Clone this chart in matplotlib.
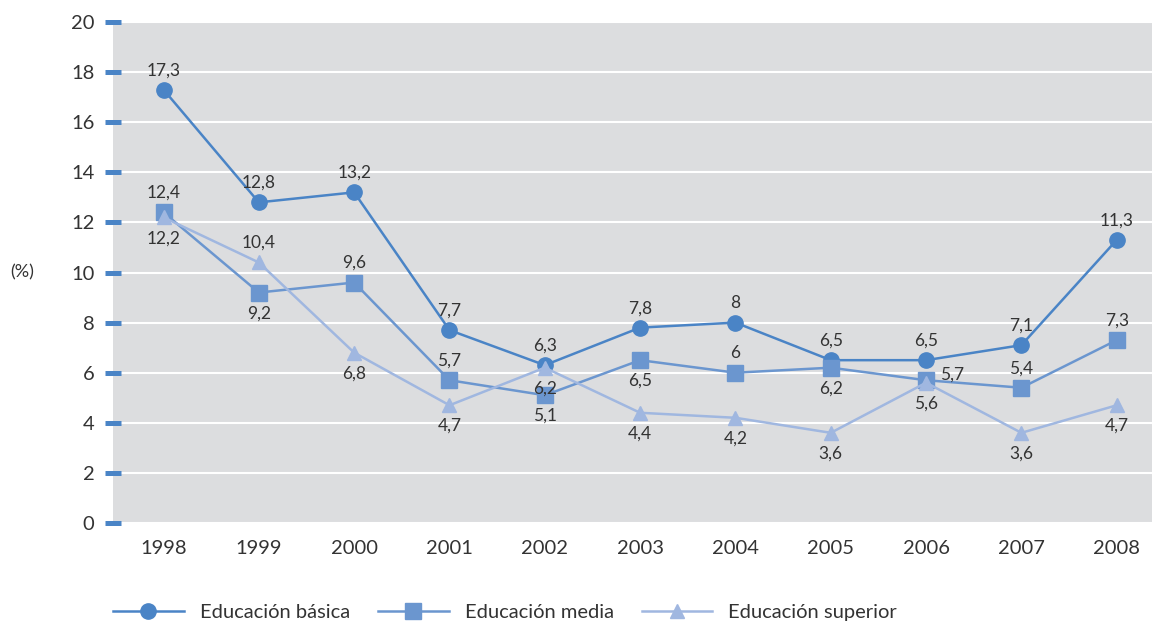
import numpy as np
import matplotlib.pyplot as plt
from matplotlib.lines import Line2D

plt.rcParams['font.family'] = ['Lato', 'DejaVu Sans']

years = ['1998', '1999', '2000', '2001', '2002', '2003', '2004', '2005', '2006', '2007', '2008']
basica = [17.3, 12.8, 13.2, 7.7, 6.3, 7.8, 8, 6.5, 6.5, 7.1, 11.3]
media = [12.4, 9.2, 9.6, 5.7, 5.1, 6.5, 6, 6.2, 5.7, 5.4, 7.3]
superior = [12.2, 10.4, 6.8, 4.7, 6.2, 4.4, 4.2, 3.6, 5.6, 3.6, 4.7]

# donde va cada etiqueta: a = arriba, b = abajo, r = derecha
pos_basica = ['a'] * 11
pos_media = ['a', 'b', 'a', 'a', 'b', 'b', 'a', 'b', 'r', 'a', 'a']
pos_superior = ['b', 'a', 'b', 'b', 'b', 'b', 'b', 'b', 'b', 'b', 'b']

c_bas = '#4a84c6'
c_med = '#6b96cf'
c_sup = '#a0b7e0'
txt = '#333333'

fig = plt.figure(figsize=(11.57, 6.21), dpi=100)
ax = fig.add_axes([113/1157, 98/621, (1152-113)/1157, 501/621])
ax.set_facecolor('#dcdddf')

x = np.arange(len(years))
series = [
    (basica, pos_basica, c_bas, 'o', 11, 'Educación básica'),
    (media, pos_media, c_med, 's', 11, 'Educación media'),
    (superior, pos_superior, c_sup, '^', 10, 'Educación superior'),
]
handles = []
for vals, pos, col, mk, ms, lab in series:
    ax.plot(x, vals, color=col, lw=1.8, marker=mk, ms=ms, zorder=3)
    handles.append(Line2D([], [], color=col, lw=1.8, marker=mk, ms=ms, label=lab))
    for xi, v, p in zip(x, vals, pos):
        s = ('%g' % v).replace('.', ',')
        if p == 'a':
            off, ha = (0, 14), 'center'
        elif p == 'b':
            off, ha = (0, -15), 'center'
        else:
            off, ha = (10, 4), 'left'
        ax.annotate(s, (xi, v), xytext=off, textcoords='offset points',
                    ha=ha, va='center', fontsize=12.5, color=txt, zorder=4)

ax.set_xlim(-0.53, 10.37)
ax.set_ylim(0, 20)
ax.set_yticks(range(0, 21, 2))
ax.set_xticks(x)
ax.set_xticklabels(years)
ax.grid(axis='y', color='white', lw=1.5)
ax.set_axisbelow(True)
for s in ax.spines.values():
    s.set_visible(False)
ax.tick_params(axis='y', direction='inout', length=11, width=3.6, color=c_bas,
               labelsize=14.5, labelcolor=txt, pad=8)
ax.tick_params(axis='x', length=0, labelsize=14.5, labelcolor=txt, pad=12)

fig.text(22/1157, 1 - 272/621, '(%)', fontsize=13, color=txt, ha='center', va='center')

fig.legend(handles=handles, loc='center left', bbox_to_anchor=(95/1157, 1 - 612/621),
           ncol=3, frameon=False, fontsize=14.5, handlelength=3.5, handletextpad=0.8,
           columnspacing=1.4, labelcolor=txt)

plt.savefig('out.png', dpi=100)
